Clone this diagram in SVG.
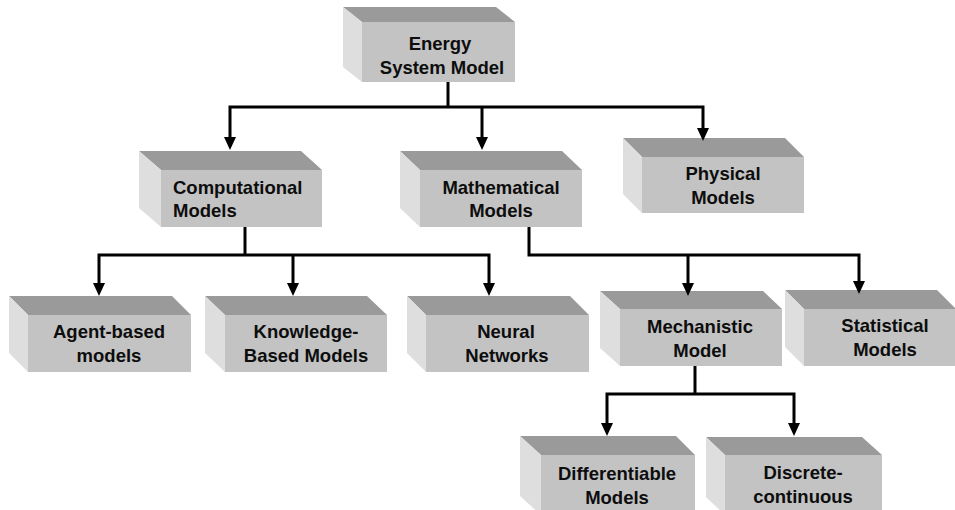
<svg xmlns="http://www.w3.org/2000/svg" width="955" height="510" viewBox="0 0 955 510">
<style>
.top{fill:#9a9a9a}
.side{fill:#dedede}
.front{fill:#c3c3c3}
.t{font-family:"Liberation Sans",Arial,sans-serif;font-weight:bold;font-size:18.5px;fill:#0d0d0d;text-anchor:middle}
.l{text-anchor:start}
.c{fill:none;stroke:#000;stroke-width:3;stroke-linejoin:miter}
</style>
<defs>
<marker id="ah" markerUnits="userSpaceOnUse" markerWidth="13" markerHeight="12" refX="0" refY="6" orient="auto-start-reverse" viewBox="0 0 13 12">
<path d="M0,0 L13,6 L0,12 z" fill="#000"/>
</marker>
</defs>
<rect width="955" height="510" fill="#fff"/>

<g id="energy">
<polygon class="top" points="343,7 496,7 515,22 362,22"/>
<polygon class="side" points="343,7 362,22 362,82 343,67"/>
<rect class="front" x="362" y="22" width="153" height="60"/>
<text class="t" x="440" y="50">Energy</text>
<text class="t" x="442" y="74">System Model</text>
</g>

<g id="computational">
<polygon class="top" points="139,151 301,151 322,170 161,170"/>
<polygon class="side" points="139,151 161,170 161,227 139,208"/>
<rect class="front" x="161" y="170" width="161" height="57"/>
<text class="t l" x="173" y="194">Computational</text>
<text class="t l" x="173" y="217">Models</text>
</g>

<g id="mathematical">
<polygon class="top" points="400,151 562,151 582,170 420,170"/>
<polygon class="side" points="400,151 420,170 420,227 400,208"/>
<rect class="front" x="420" y="170" width="162" height="57"/>
<text class="t" x="501" y="194">Mathematical</text>
<text class="t" x="501" y="217">Models</text>
</g>

<g id="physical">
<polygon class="top" points="623,138 785,138 804,157 642,157"/>
<polygon class="side" points="623,138 642,157 642,213 623,194"/>
<rect class="front" x="642" y="157" width="162" height="56"/>
<text class="t" x="723" y="180">Physical</text>
<text class="t" x="723" y="204">Models</text>
</g>

<g id="agent">
<polygon class="top" points="9,296 172,296 191,315 28,315"/>
<polygon class="side" points="9,296 28,315 28,372 9,353"/>
<rect class="front" x="28" y="315" width="163" height="57"/>
<text class="t" x="109" y="338">Agent-based</text>
<text class="t" x="109" y="362">models</text>
</g>

<g id="knowledge">
<polygon class="top" points="205,296 367,296 387,315 225,315"/>
<polygon class="side" points="205,296 225,315 225,372 205,353"/>
<rect class="front" x="225" y="315" width="162" height="57"/>
<text class="t" x="306" y="338">Knowledge-</text>
<text class="t" x="306" y="362">Based Models</text>
</g>

<g id="neural">
<polygon class="top" points="407,296 570,296 589,315 426,315"/>
<polygon class="side" points="407,296 426,315 426,372 407,353"/>
<rect class="front" x="426" y="315" width="163" height="57"/>
<text class="t" x="506" y="338">Neural</text>
<text class="t" x="507" y="362">Networks</text>
</g>

<g id="mechanistic">
<polygon class="top" points="600,291 763,291 782,309 620,309"/>
<polygon class="side" points="600,291 620,309 620,366 600,348"/>
<rect class="front" x="620" y="309" width="162" height="57"/>
<text class="t" x="700" y="333">Mechanistic</text>
<text class="t" x="700" y="357">Model</text>
</g>

<g id="statistical">
<polygon class="top" points="785,290 937,290 956,309 804,309"/>
<polygon class="side" points="785,290 804,309 804,366 785,347"/>
<rect class="front" x="804" y="309" width="152" height="57"/>
<text class="t" x="885" y="332">Statistical</text>
<text class="t" x="885" y="356">Models</text>
</g>

<g id="differentiable">
<polygon class="top" points="520,436 676,436 695,455 541,455"/>
<polygon class="side" points="520,436 541,455 541,515 520,496"/>
<rect class="front" x="541" y="455" width="154" height="60"/>
<text class="t" x="617" y="480">Differentiable</text>
<text class="t" x="617" y="504">Models</text>
</g>

<g id="discrete">
<polygon class="top" points="706,437 862,437 882,455 725,455"/>
<polygon class="side" points="706,437 725,455 725,515 706,497"/>
<rect class="front" x="725" y="455" width="157" height="60"/>
<text class="t" x="803" y="479">Discrete-</text>
<text class="t" x="803" y="503">continuous</text>
</g>

<g id="connectors">
<path class="c" d="M448,82 V107"/>
<path class="c" d="M230,137 V107 H703 V128" marker-start="url(#ah)" marker-end="url(#ah)"/>
<path class="c" d="M482,107 V137" marker-end="url(#ah)"/>
<path class="c" d="M245,227 V255"/>
<path class="c" d="M99,283 V255 H489 V283" marker-start="url(#ah)" marker-end="url(#ah)"/>
<path class="c" d="M293,255 V283" marker-end="url(#ah)"/>
<path class="c" d="M529,227 V255 H859 V281" marker-end="url(#ah)"/>
<path class="c" d="M688,255 V283" marker-end="url(#ah)"/>
<path class="c" d="M695,366 V394"/>
<path class="c" d="M607,423 V394 H794 V423" marker-start="url(#ah)" marker-end="url(#ah)"/>
</g>
</svg>
